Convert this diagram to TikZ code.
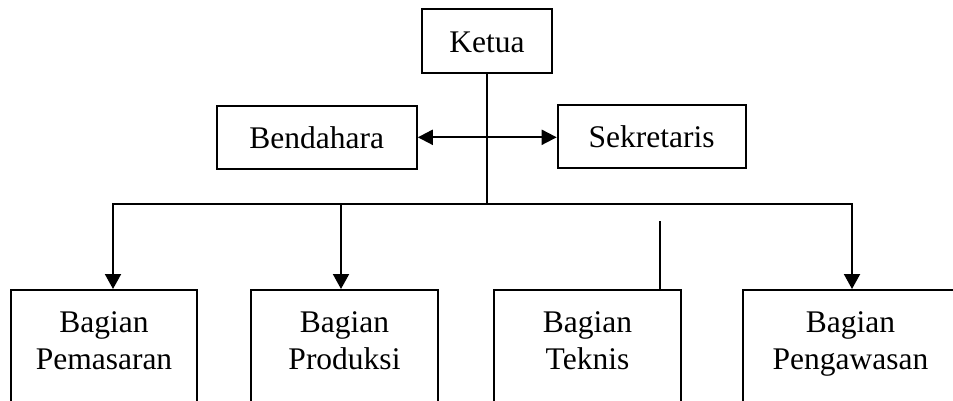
\documentclass[tikz,border=0pt]{standalone}
\usepackage{fontspec}
\setmainfont{Liberation Serif}
\usetikzlibrary{arrows.meta}
\begin{document}
\begin{tikzpicture}[x=1pt,y=-1pt,
  every node/.style={font=\fontsize{31.5}{36.7}\selectfont},
  topbox/.style={draw, line width=2pt, inner sep=0pt, text height=21.5pt, text depth=0pt},
  botbox/.style={draw, line width=2pt, inner sep=0pt, anchor=north, align=center, text height=79pt, text depth=50pt},
  conn/.style={line width=2pt},
  arr/.style={conn, -{Triangle[width=16pt,length=15pt]}},
  darr/.style={conn, {Triangle[width=15pt,length=15pt]}-{Triangle[width=15pt,length=15pt]}}
]
\useasboundingbox (0,0) rectangle (953,401);
\clip (0,0) rectangle (953,401);
\node[topbox, minimum width=130pt, minimum height=64pt] (ketua) at (487,41.3) {Ketua};
\node[topbox, minimum width=200pt, minimum height=63pt] (bend) at (316.8,137.3) {Bendahara};
\node[topbox, minimum width=188pt, minimum height=63pt] (sekr) at (651.7,136.5) {Sekretaris};
\node[botbox, minimum width=186pt] (pem) at (104,289) {Bagian\\Pemasaran};
\node[botbox, minimum width=187pt] (prod) at (344.5,289) {Bagian\\Produksi};
\node[botbox, minimum width=187pt] (tek) at (587.5,289) {Bagian\\Teknis};
\node[botbox, minimum width=215pt] (peng) at (850.5,289) {Bagian\\Pengawasan};
\coordinate (j) at (487,204);
\coordinate (hl) at (113,204);
\coordinate (hp) at (341,204);
\coordinate (hr) at (852,204);
\coordinate (tk) at (660,221);
\draw[conn] (ketua.south) -- (j);
\draw[darr] (bend.east) -- (sekr.west |- bend.east);
\draw[arr] (j) -| (hl |- pem.north);
\draw[arr] (j) -| (hr |- peng.north);
\draw[arr] (hp) -- (hp |- prod.north);
\draw[conn] (tk) -- (tk |- tek.north);
\end{tikzpicture}
\end{document}
